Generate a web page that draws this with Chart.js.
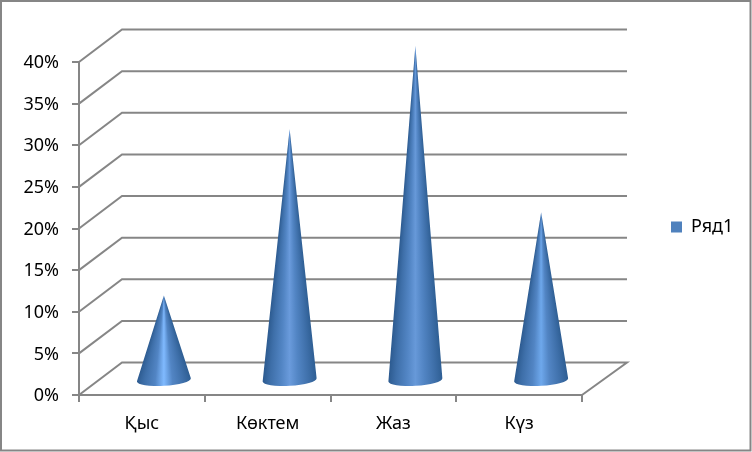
<!DOCTYPE html>
<html>
<head>
<meta charset="utf-8">
<style>html,body{margin:0;padding:0;background:#fff}canvas{display:block}</style>
<script src="https://cdn.jsdelivr.net/npm/chart.js@4"></script>
</head>
<body>
<canvas id="c" width="752" height="452"></canvas>
<script>
const categories = ['Қыс', 'Көктем', 'Жаз', 'Күз'];
const seriesName = 'Ряд1';
const seriesValues = [10, 30, 40, 20];
const highlights = ['#80baff', '#6a9bdc', '#6799d9', '#6ea8ec'];
const FONT = 'Noto Sans';
const GRID = '#868686';
const DX = 43, DY = 32.5;

function drawCone(ctx, cx, baseY, tipY, hw, hi) {
  const ry = 5.8, rot = -0.06;
  ctx.save();
  ctx.beginPath();
  ctx.moveTo(cx, tipY);
  ctx.lineTo(cx - hw * Math.cos(rot), baseY + hw * 0.06);
  ctx.ellipse(cx, baseY, hw, ry, rot, Math.PI, 0, true);
  ctx.closePath();
  ctx.clip();
  const top = Math.floor(tipY);
  const bottom = Math.ceil(baseY + ry + 3);
  for (let y = top; y < bottom; y++) {
    const w = Math.max(1, Math.min(hw, hw * (y + 0.5 - tipY) / (baseY - tipY)));
    const g = ctx.createLinearGradient(cx - w, 0, cx + w, 0);
    g.addColorStop(0, '#2c5a8f');
    g.addColorStop(0.14, '#3e6fa9');
    g.addColorStop(0.34, '#5285c4');
    g.addColorStop(0.5, hi);
    g.addColorStop(0.66, '#5285c4');
    g.addColorStop(0.86, '#3e6fa9');
    g.addColorStop(1, '#2f5f94');
    ctx.fillStyle = g;
    ctx.fillRect(cx - hw - 2, y, 2 * hw + 4, 1);
  }
  ctx.restore();
}
const scene = {
  id: 'scene',
  afterLayout(chart) {
    const l = chart.legend;
    l.left = 671 - l.options.labels.padding;
    l.right = 745;
    l.top = 218 - l.options.labels.padding;
    l.bottom = 240;
  },
  beforeDraw(chart) {
    const ctx = chart.ctx;
    ctx.save();
    ctx.fillStyle = '#fff';
    ctx.fillRect(0, 0, 752, 452);
    ctx.strokeStyle = GRID;
    ctx.lineWidth = 2;
    ctx.strokeRect(1, 1, 749.5, 449.5);
    ctx.restore();
  },
  beforeDatasetsDraw(chart) {
    const ctx = chart.ctx, xs = chart.scales.x, ys = chart.scales.y;
    ctx.save();
    ctx.strokeStyle = GRID;
    ctx.lineWidth = 2;
    ys.ticks.forEach(t => {
      const y = ys.getPixelForValue(t.value);
      ctx.beginPath();
      ctx.moveTo(xs.left, y);
      ctx.lineTo(xs.left + DX, y - DY);
      ctx.lineTo(xs.right + DX + 2, y - DY);
      if (t.value === 0) ctx.lineTo(xs.right, y);
      ctx.stroke();
    });
    ctx.restore();
  },
  beforeDatasetDraw(chart, args) {
    const ctx = chart.ctx, base = chart.scales.y.getPixelForValue(0);
    args.meta.data.forEach((el, i) => {
      drawCone(ctx, el.x + DX / 2 + 0.5, base - DY / 2 + 1.2, el.y - DY / 2, el.width / 2, highlights[i]);
    });
    return false;
  }
};
new Chart(document.getElementById('c'), {
  type: 'bar',
  data: {
    labels: categories,
    datasets: [{ label: seriesName, data: seriesValues, backgroundColor: '#4f81bd', borderWidth: 0, barPercentage: 0.43, categoryPercentage: 1 }]
  },
  plugins: [scene],
  options: {
    responsive: false,
    animation: false,
    layout: { padding: { top: 62, right: 170, left: 0, bottom: 0 } },
    scales: {
      x: {
        afterFit(s) { s.height = 57; },
        grid: { offset: true, drawOnChartArea: false, color: GRID, lineWidth: 2, tickLength: 7 },
        border: { color: GRID, width: 2 },
        ticks: { color: '#000', font: { family: FONT, size: 18 }, padding: 11, maxRotation: 0 }
      },
      y: {
        min: 0, max: 40,
        afterFit(s) { s.width = 79; },
        grid: { drawOnChartArea: false, color: GRID, lineWidth: 2, tickLength: 7 },
        border: { color: GRID, width: 2 },
        ticks: { stepSize: 5, color: '#000', font: { family: FONT, size: 18 }, padding: 13, labelOffset: 1, callback: v => v + '%' }
      }
    },
    plugins: {
      tooltip: { enabled: false },
      legend: {
        position: 'chartArea',
        align: 'start',
        labels: { color: '#000', font: { family: FONT, size: 18 }, boxWidth: 11, boxHeight: 11, padding: 6 }
      }
    }
  }
});
</script>
</body>
</html>
